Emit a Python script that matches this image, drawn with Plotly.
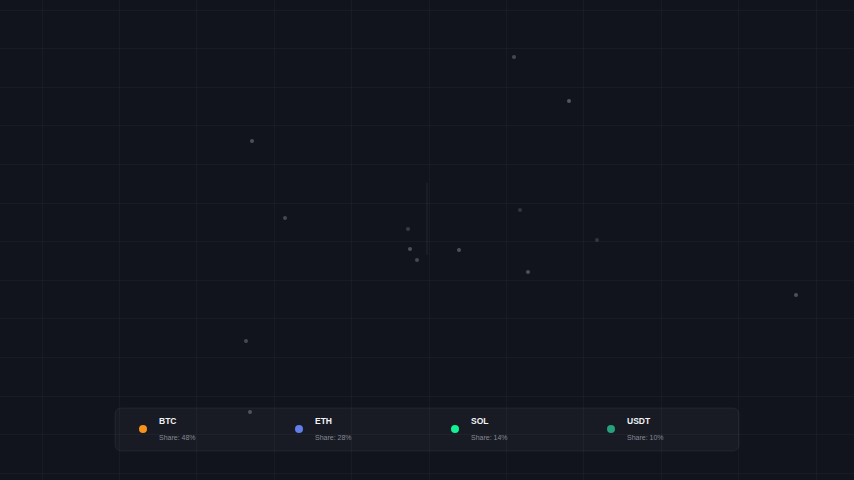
import plotly.graph_objects as go

# === Dados ===
coins = ["BTC", "ETH", "SOL", "USDT"]
shares = [48, 28, 14, 10]
coin_colors = ["#f7931a", "#627eea", "#14f195", "#26a17b"]

# partículas espalhadas no fundo (coordenadas em pixels da tela)
dots_x = [514, 569, 252, 285, 408, 410, 417, 459, 520, 528, 597, 796, 246, 250]
dots_y = [57, 101, 141, 218, 229, 249, 260, 250, 210, 272, 240, 295, 341, 412]
dots_alpha = [0.4, 0.5, 0.45, 0.4, 0.3, 0.45, 0.4, 0.45, 0.25, 0.45, 0.25, 0.45, 0.4, 0.45]

streak_x = [427, 427]
streak_y = [183, 255]

W, H = 854, 480
BG = "#11141d"

fig = go.Figure()

# traço vertical fraco
fig.add_trace(go.Scatter(
    x=streak_x, y=streak_y, mode="lines",
    line=dict(color="rgba(150,155,170,0.15)", width=1),
    hoverinfo="skip", showlegend=False,
))

# partículas
fig.add_trace(go.Scatter(
    x=dots_x, y=dots_y, mode="markers",
    marker=dict(size=4, color=[f"rgba(150,152,165,{a})" for a in dots_alpha]),
    hoverinfo="skip", showlegend=False,
))

# === Legenda customizada ===
box_x0, box_x1, box_y0, box_y1, r = 115, 739, 408, 451, 7
path = (f"M {box_x0 + r},{box_y0} L {box_x1 - r},{box_y0} Q {box_x1},{box_y0} {box_x1},{box_y0 + r} "
        f"L {box_x1},{box_y1 - r} Q {box_x1},{box_y1} {box_x1 - r},{box_y1} "
        f"L {box_x0 + r},{box_y1} Q {box_x0},{box_y1} {box_x0},{box_y1 - r} "
        f"L {box_x0},{box_y0 + r} Q {box_x0},{box_y0} {box_x0 + r},{box_y0} Z")
fig.add_shape(type="path", path=path, xref="x", yref="y",
              fillcolor="rgba(255,255,255,0.03)",
              line=dict(color="rgba(255,255,255,0.06)", width=1), layer="below")

item_x = [143 + i * 156 for i in range(len(coins))]
fig.add_trace(go.Scatter(
    x=item_x, y=[429] * len(coins), mode="markers",
    marker=dict(size=8, color=coin_colors),
    hoverinfo="skip", showlegend=False,
))

for i, (c, s) in enumerate(zip(coins, shares)):
    fig.add_annotation(x=item_x[i] + 14, y=421, text=f"<b>{c}</b>", showarrow=False,
                       xanchor="left", yanchor="middle",
                       font=dict(family="Liberation Sans, Arial, sans-serif", size=8.5, color="#f2f3f5"))
    fig.add_annotation(x=item_x[i] + 14, y=437, text=f"Share: {s}%", showarrow=False,
                       xanchor="left", yanchor="middle",
                       font=dict(family="Liberation Sans, Arial, sans-serif", size=7, color="#868a95"))

fig.update_layout(
    width=W, height=H,
    margin=dict(l=0, r=0, t=0, b=0),
    paper_bgcolor=BG, plot_bgcolor=BG,
    xaxis=dict(range=[0, W], showgrid=True, gridcolor="rgba(255,255,255,0.03)", gridwidth=1,
               tick0=42, dtick=77.4, zeroline=False, showticklabels=False, fixedrange=True),
    yaxis=dict(range=[H, 0], showgrid=True, gridcolor="rgba(255,255,255,0.03)", gridwidth=1,
               tick0=10, dtick=38.6, zeroline=False, showticklabels=False, fixedrange=True),
    showlegend=False,
)

# tira a margem padrão do <body> para o gráfico ocupar a janela inteira
fig.write_html("out.html", config={"displayModeBar": False},
               post_script="document.body.style.margin='0';document.body.style.background='#11141d';")
